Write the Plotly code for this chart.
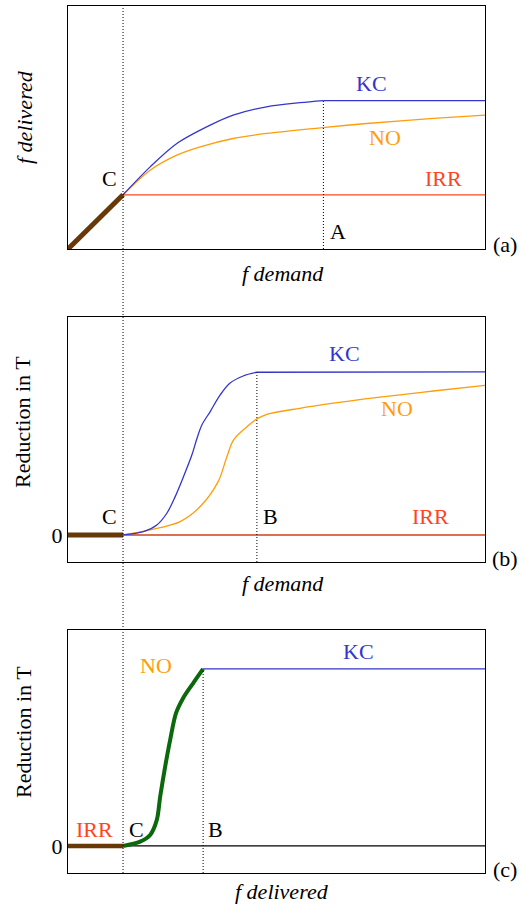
import plotly.graph_objects as go

# ---- key positions on the horizontal axis (fraction of the range) ----
x_C = 0.132          # threshold C
x_A = 0.6125         # point A (panel a)
x_B_demand = 0.453   # point B on the f demand axis (panel b)
x_B_deliv = 0.324    # point B on the f delivered axis (panel c)

# ---- panel (a): f delivered vs f demand ----
a_base_x = [0.0, 0.132]
a_base_y = [0.0, 0.13]
a_kc_x = [0.132, 0.197, 0.261, 0.341, 0.396, 0.476, 0.556, 0.6125]
a_kc_y = [0.13, 0.197, 0.253, 0.297, 0.321, 0.341, 0.351, 0.356]
a_kc_flat_x = [0.6125, 1.0]
a_kc_flat_y = [0.356, 0.356]
a_no_x = [0.132, 0.197, 0.261, 0.317, 0.396, 0.476, 0.61, 0.716, 0.876, 1.0]
a_no_y = [0.13, 0.189, 0.225, 0.245, 0.265, 0.277, 0.291, 0.301, 0.313, 0.321]
a_irr_x = [0.132, 1.0]
a_irr_y = [0.13, 0.13]

# ---- panel (b): reduction in T vs f demand ----
b_base_x = [0.0, 0.132]
b_base_y = [0.0, 0.0]
b_kc_x = [0.132, 0.181, 0.213, 0.237, 0.257, 0.275, 0.297, 0.309, 0.321,
          0.341, 0.365, 0.388, 0.42, 0.453]
b_kc_y = [0.0, 0.02, 0.061, 0.133, 0.235, 0.345, 0.49, 0.59, 0.675,
          0.757, 0.859, 0.93, 0.975, 0.998]
b_kc_flat_x = [0.453, 1.0]
b_kc_flat_y = [0.998, 1.0]
b_no_x = [0.132, 0.197, 0.269, 0.317, 0.36, 0.381, 0.397, 0.429, 0.453,
          0.477, 0.556, 0.636, 0.708, 0.796, 0.876, 1.0]
b_no_y = [0.0, 0.031, 0.082, 0.174, 0.327, 0.48, 0.583, 0.664, 0.712,
          0.74, 0.777, 0.808, 0.833, 0.859, 0.883, 0.918]
b_irr_x = [0.132, 1.0]
b_irr_y = [0.0, 0.0]

# ---- panel (c): reduction in T vs f delivered ----
c_base_x = [0.0, 0.132]
c_base_y = [0.0, 0.0]
c_no_x = [0.132, 0.173, 0.197, 0.213, 0.221, 0.233, 0.245, 0.259, 0.276, 0.3, 0.324]
c_no_y = [0.0, 0.024, 0.062, 0.147, 0.278, 0.448, 0.599, 0.75, 0.835, 0.919, 1.0]
c_kc_x = [0.324, 1.0]
c_kc_y = [1.0, 1.0]
c_zero_x = [0.0, 1.0]
c_zero_y = [0.0, 0.0]

# axis ranges
a_yrange = [0.0, 0.5827]
b_yrange = [-0.166, 1.337]
c_yrange = [-0.153, 1.22]

BLUE = "#3535cc"
ORANGE = "#ff9d0a"
RED = "#ff4422"
DARKRED = "#d0401a"
BROWN = "#673808"
GREEN = "#0b680b"
SERIF = "'Liberation Serif', 'Times New Roman', Times, 'DejaVu Serif', serif"
FS = 22

W, H = 526, 906


def px(x):
    return x / W


def py(y):
    return 1 - y / H


fig = go.Figure()


def line(xs, ys, color, width, axis, smooth=False):
    fig.add_trace(go.Scatter(
        x=xs, y=ys, mode="lines",
        line=dict(color=color, width=width,
                  shape="spline" if smooth else "linear",
                  smoothing=0.9 if smooth else None),
        xaxis="x" + axis, yaxis="y" + axis, hoverinfo="skip", showlegend=False))


# panel (a)
line(a_irr_x, a_irr_y, RED, 1.3, "")
line(a_no_x, a_no_y, ORANGE, 1.3, "", smooth=True)
line(a_kc_x, a_kc_y, BLUE, 1.3, "", smooth=True)
line(a_kc_flat_x, a_kc_flat_y, BLUE, 1.3, "")
line(a_base_x, a_base_y, BROWN, 5, "")

# panel (b)
line(b_irr_x, b_irr_y, DARKRED, 1.6, "2")
line(b_no_x, b_no_y, ORANGE, 1.3, "2", smooth=True)
line(b_kc_x, b_kc_y, BLUE, 1.3, "2", smooth=True)
line(b_kc_flat_x, b_kc_flat_y, BLUE, 1.3, "2")
line(b_base_x, b_base_y, BROWN, 5, "2")

# panel (c)
line(c_zero_x, c_zero_y, "black", 1.2, "3")
line(c_kc_x, c_kc_y, BLUE, 1.3, "3")
line(c_no_x, c_no_y, GREEN, 4, "3", smooth=True)
line(c_base_x, c_base_y, BROWN, 4.5, "3")

xdom = [68 / W, 485 / W]
frame = dict(showline=True, mirror=True, linecolor="black", linewidth=1.2,
             showgrid=False, zeroline=False, ticks="", fixedrange=True)

fig.update_layout(
    width=W, height=H, margin=dict(l=0, r=0, t=0, b=0),
    paper_bgcolor="white", plot_bgcolor="white",
    font=dict(family=SERIF, size=FS, color="black"),
    xaxis=dict(domain=xdom, range=[0, 1], showticklabels=False, anchor="y", **frame),
    yaxis=dict(domain=[py(249), py(6)], range=a_yrange, showticklabels=False,
               anchor="x", **frame),
    xaxis2=dict(domain=xdom, range=[0, 1], showticklabels=False, anchor="y2", **frame),
    yaxis2=dict(domain=[py(562), py(317)], range=b_yrange, anchor="x2",
                tickvals=[0], ticktext=["0"], tickfont=dict(family=SERIF, size=FS),
                **frame),
    xaxis3=dict(domain=xdom, range=[0, 1], showticklabels=False, anchor="y3", **frame),
    yaxis3=dict(domain=[py(873), py(630)], range=c_yrange, anchor="x3",
                tickvals=[0], ticktext=["0"], tickfont=dict(family=SERIF, size=FS),
                **frame),
)

dotted = dict(color="black", width=1, dash="1px,2px")

# long threshold line through all three panels at C
fig.add_shape(type="line", xref="x", yref="paper", x0=x_C, x1=x_C,
              y0=py(873), y1=py(6), line=dotted)
# A in panel (a)
fig.add_shape(type="line", xref="x", yref="y", x0=x_A, x1=x_A,
              y0=a_yrange[0], y1=a_kc_flat_y[0], line=dotted)
# B in panel (b)
fig.add_shape(type="line", xref="x2", yref="y2", x0=x_B_demand, x1=x_B_demand,
              y0=b_yrange[0], y1=b_kc_flat_y[0], line=dotted)
# B in panel (c)
fig.add_shape(type="line", xref="x3", yref="y3", x0=x_B_deliv, x1=x_B_deliv,
              y0=c_yrange[0], y1=c_kc_y[0], line=dotted)


def label(text, x, y, color="black", angle=0, size=FS, yanchor="middle"):
    fig.add_annotation(text=text, x=px(x), y=py(y), xref="paper", yref="paper",
                       showarrow=False, xanchor="center", yanchor=yanchor,
                       borderpad=0, textangle=angle,
                       font=dict(family=SERIF, size=size, color=color))


# panel (a) text
label("KC", 371, 83, BLUE)
label("NO", 385, 137, ORANGE)
label("IRR", 443, 178, RED)
label("C", 109, 178)
label("A", 338, 232)
label("(a)", 505, 244)
label("<i>f demand</i>", 283, 273)
label("<i>f delivered</i>", 24, 117, angle=-90)

# panel (b) text
label("KC", 344, 353, BLUE)
label("NO", 397, 408, ORANGE)
label("IRR", 430, 516, RED)
label("C", 109, 516)
label("B", 270, 516)
label("(b)", 505, 558)
label("<i>f demand</i>", 283, 583)
label("Reduction in T", 23, 422, angle=-90)

# panel (c) text
label("KC", 358, 651, BLUE)
label("NO", 156, 665, ORANGE)
label("IRR", 94, 829, RED)
label("C", 136, 829)
label("B", 215, 829)
label("(c)", 505, 869)
label("<i>f delivered</i>", 282, 905, yanchor="bottom")
label("Reduction in T", 23, 732, angle=-90)

fig.write_html("out.html")
